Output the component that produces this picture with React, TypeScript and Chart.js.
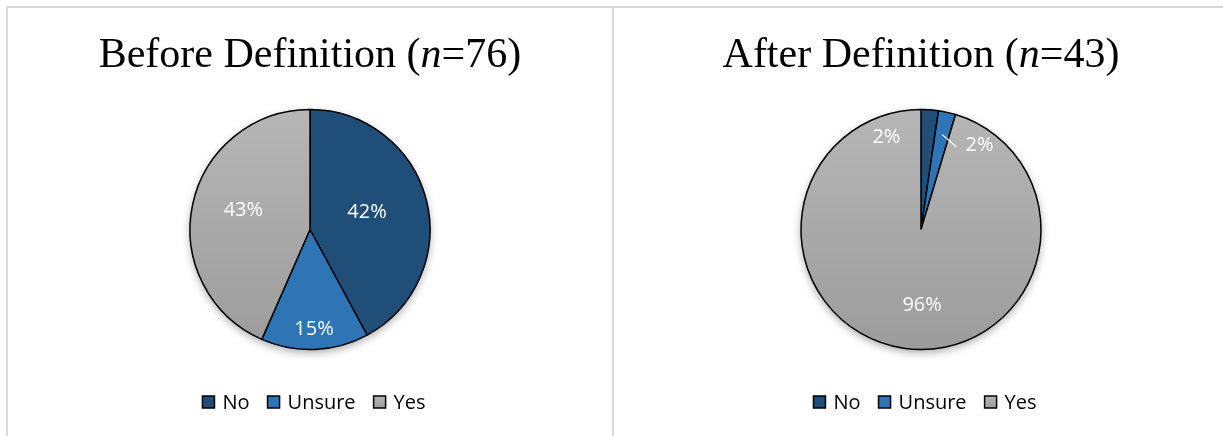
import React, { useEffect, useRef } from "react";
import { Chart, registerables } from "chart.js";
Chart.register(...registerables);

// ---- data ----
const categories = ["No", "Unsure", "Yes"];
const beforeCounts = [32, 11, 33];
const afterCounts = [1, 1, 41];
const beforeLabels = ["42%", "15%", "43%"];
const afterLabels = ["2%", "2%", "96%"];
const beforeTitle = ["Before Definition (", "n", "=76)"];
const afterTitle = ["After Definition (", "n", "=43)"];

// ---- style ----
const sliceColors = ["#1F4E79", "#2E75B6", "#A5A5A5"];
const SANS = "'Open Sans', 'Noto Sans', sans-serif";
const SERIF = "'Liberation Serif', 'Times New Roman', serif";

// label placement relative to each slice: r = fraction of radius, d = degrees offset from mid-angle
const beforePlacement = [
  { r: 0.5, d: -4 },
  { r: 0.82, d: 0 },
  { r: 0.58, d: 5 },
];
const afterPlacement = [
  { r: 0.83, d: -24.5 },
  { r: 0.865, d: 21.7, leader: true },
  { r: 0.625, d: -9.2 },
];

function sliceColor(ctx: any) {
  const i = ctx.dataIndex;
  if (i !== 2) return sliceColors[i];
  const chart = ctx.chart;
  const area = chart.chartArea;
  if (!area) return sliceColors[2];
  const g = chart.ctx.createLinearGradient(0, area.top, 0, area.bottom);
  g.addColorStop(0, "#B6B6B6");
  g.addColorStop(1, "#9C9C9C");
  return g;
}

const shadowPlugin = {
  id: "pieShadow",
  beforeDatasetsDraw(chart: any) {
    const meta = chart.getDatasetMeta(0);
    const arc = meta.data[0];
    if (!arc) return;
    const { x, y, outerRadius } = arc.getProps(["x", "y", "outerRadius"], true);
    const ctx = chart.ctx;
    ctx.save();
    ctx.shadowColor = "rgba(0,0,0,0.35)";
    ctx.shadowBlur = 8;
    ctx.shadowOffsetY = 3;
    ctx.fillStyle = "#ffffff";
    ctx.beginPath();
    ctx.arc(x, y, outerRadius, 0, Math.PI * 2);
    ctx.fill();
    ctx.restore();
  },
};

function labelsPlugin(texts: string[], placement: any[]) {
  return {
    id: "sliceLabels",
    afterDatasetsDraw(chart: any) {
      const ctx = chart.ctx;
      const meta = chart.getDatasetMeta(0);
      ctx.save();
      ctx.font = `20px ${SANS}`;
      ctx.fillStyle = "#ffffff";
      ctx.textAlign = "center";
      ctx.textBaseline = "alphabetic";
      meta.data.forEach((arc: any, i: number) => {
        const p = arc.getProps(["x", "y", "startAngle", "endAngle", "outerRadius"], true);
        const mid = (p.startAngle + p.endAngle) / 2;
        const pl = placement[i];
        const a = mid + (pl.d * Math.PI) / 180;
        const lx = p.x + Math.cos(a) * p.outerRadius * pl.r;
        const ly = p.y + Math.sin(a) * p.outerRadius * pl.r;
        ctx.fillText(texts[i], lx, ly + 7);
        if (pl.leader) {
          const w = ctx.measureText(texts[i]).width;
          const sx = p.x + Math.cos(mid) * p.outerRadius * 0.81;
          const sy = p.y + Math.sin(mid) * p.outerRadius * 0.81;
          ctx.strokeStyle = "#ffffff";
          ctx.lineWidth = 1.2;
          ctx.beginPath();
          ctx.moveTo(sx, sy);
          ctx.lineTo(lx - w / 2 - 9, ly + 3);
          ctx.stroke();
        }
      });
      ctx.restore();
    },
  };
}

function titlePlugin(parts: string[]) {
  return {
    id: "richTitle",
    afterDraw(chart: any) {
      const ctx = chart.ctx;
      const cx = (chart.chartArea.left + chart.chartArea.right) / 2;
      ctx.save();
      ctx.fillStyle = "#000000";
      ctx.textBaseline = "alphabetic";
      ctx.textAlign = "left";
      const fonts = [`42px ${SERIF}`, `italic 42px ${SERIF}`, `42px ${SERIF}`];
      const widths = parts.map((t, i) => {
        ctx.font = fonts[i];
        return ctx.measureText(t).width;
      });
      let x = cx - widths.reduce((s, w) => s + w, 0) / 2;
      parts.forEach((t, i) => {
        ctx.font = fonts[i];
        ctx.fillText(t, x, 59);
        x += widths[i];
      });
      ctx.restore();
    },
  };
}

const legendPlugin = {
  id: "customLegend",
  afterDraw(chart: any) {
    const ctx = chart.ctx;
    const cx = (chart.chartArea.left + chart.chartArea.right) / 2 + 4;
    const labels: string[] = chart.data.labels;
    ctx.save();
    ctx.font = `20px ${SANS}`;
    const box = 12;
    const gap = 8;
    const itemGap = 18;
    const widths = labels.map((l) => ctx.measureText(l).width);
    const total = widths.reduce((s, w) => s + box + gap + w, 0) + itemGap * (labels.length - 1);
    let x = cx - total / 2;
    const cy = 394;
    labels.forEach((l, i) => {
      if (i !== 2) {
        ctx.fillStyle = sliceColors[i];
      } else {
        const g = ctx.createLinearGradient(0, cy - box / 2, 0, cy + box / 2);
        g.addColorStop(0, "#B6B6B6");
        g.addColorStop(1, "#9C9C9C");
        ctx.fillStyle = g;
      }
      ctx.fillRect(x, cy - box / 2, box, box);
      ctx.strokeStyle = "#000000";
      ctx.lineWidth = 1.5;
      ctx.strokeRect(x, cy - box / 2, box, box);
      ctx.fillStyle = "#000000";
      ctx.textBaseline = "alphabetic";
      ctx.textAlign = "left";
      ctx.fillText(l, x + box + gap, cy + 7);
      x += box + gap + widths[i] + itemGap;
    });
    ctx.restore();
  },
};

function PiePanel(props: {
  values: number[];
  texts: string[];
  title: string[];
  placement: any[];
  left: number;
  width: number;
}) {
  const ref = useRef<HTMLCanvasElement>(null);
  useEffect(() => {
    const chart = new Chart(ref.current as HTMLCanvasElement, {
      type: "pie",
      data: {
        labels: categories,
        datasets: [
          {
            data: props.values,
            backgroundColor: sliceColor as any,
            borderColor: "#000000",
            borderWidth: 1.5,
          },
        ],
      },
      options: {
        responsive: false,
        animation: false,
        events: [],
        radius: 120,
        layout: { padding: { top: 101, bottom: 86, left: 0, right: 0 } },
        plugins: {
          legend: { display: false },
          tooltip: { enabled: false },
          title: { display: false },
        },
      } as any,
      plugins: [shadowPlugin, labelsPlugin(props.texts, props.placement), titlePlugin(props.title), legendPlugin],
    });
    return () => chart.destroy();
  }, []);
  return (
    <canvas
      ref={ref}
      width={props.width}
      height={428}
      style={{ position: "absolute", left: props.left, top: 8, width: props.width, height: 428 }}
    />
  );
}

export default function App() {
  const border = "#D9D9D9";
  return (
    <div
      style={{
        position: "fixed",
        left: 0,
        top: 0,
        width: 1223,
        height: 436,
        overflow: "hidden",
        background: "#ffffff",
      }}
    >
      <div style={{ position: "absolute", left: 6, top: 6, width: 1217, height: 2, background: border }} />
      <div style={{ position: "absolute", left: 6, top: 6, width: 2, height: 430, background: border }} />
      <div style={{ position: "absolute", left: 612, top: 6, width: 2, height: 430, background: border }} />
      <PiePanel values={beforeCounts} texts={beforeLabels} title={beforeTitle} placement={beforePlacement} left={8} width={604} />
      <PiePanel values={afterCounts} texts={afterLabels} title={afterTitle} placement={afterPlacement} left={614} width={614} />
    </div>
  );
}
